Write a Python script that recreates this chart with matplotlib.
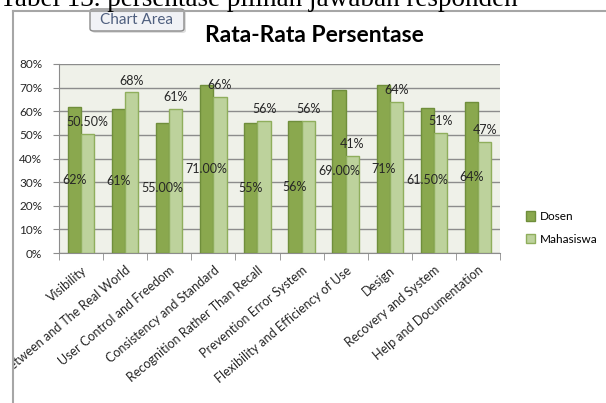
import matplotlib.pyplot as plt
from matplotlib.patches import FancyBboxPatch
from matplotlib.lines import Line2D
from matplotlib.transforms import Bbox, TransformedBbox
import numpy as np

plt.rcParams['font.family'] = ['Lato', 'DejaVu Sans']

categories = ['Visibility', 'Match Between and The Real World', 'User Control and Freedom',
              'Consistency and Standard', 'Recognition Rather Than Recall', 'Prevention Error System',
              'Flexibility and Efficiency of Use', 'Design', 'Recovery and System',
              'Help and Documentation']
dosen = [62, 61, 55, 71, 55, 56, 69, 71, 61.5, 64]
mahasiswa = [50.5, 68, 61, 66, 56, 56, 41, 64, 51, 47]
dosen_labels = ['62%', '61%', '55.00%', '71.00%', '55%', '56%', '69.00%', '71%', '61.50%', '64%']
mhs_labels = ['50.50%', '68%', '61%', '66%', '56%', '56%', '41%', '64%', '51%', '47%']
yticks = [0, 10, 20, 30, 40, 50, 60, 70, 80]

W, H = 606, 403
fig = plt.figure(figsize=(W / 100, H / 100), dpi=100)
fig.patch.set_facecolor('white')

# judul tabel di atas (terpotong)
fig.text(0 / W, 1 - 6 / H, 'Tabel 13. persentase pilihan jawaban responden',
         family='Liberation Serif', fontsize=19.5, va='baseline', ha='left', color='black')

# garis chart area
fig.add_artist(Line2D([13 / W, 1], [1 - 11 / H, 1 - 11 / H], color='#a6a6a6', lw=1.5))
fig.add_artist(Line2D([13 / W, 13 / W], [0, 1 - 11 / H], color='#a6a6a6', lw=1.5))

ax = fig.add_axes([59 / W, 150 / H, 441 / W, 189 / H])
ax.set_facecolor('#eff1e9')

x = np.arange(len(categories))
w = 0.3
ax.bar(x - w / 2, dosen, w, color='#8aa84e', edgecolor='#6f8e3b', linewidth=1, label='Dosen', zorder=3)
ax.bar(x + w / 2, mahasiswa, w, color='#bdd29c', edgecolor='#8fae5c', linewidth=1, label='Mahasiswa', zorder=3)

for i in range(len(categories)):
    ax.text(x[i] - w / 2, dosen[i] / 2, dosen_labels[i], ha='center', va='center',
            fontsize=9, color='#262626', zorder=5)
    ax.text(x[i] + w / 2, mahasiswa[i] + 5, mhs_labels[i], ha='center', va='center',
            fontsize=9, color='#262626', zorder=5)

ax.set_xlim(-0.5, len(categories) - 0.5)
ax.set_ylim(0, 80)
ax.set_yticks(yticks)
ax.set_yticklabels([f'{v}%' for v in yticks], fontsize=8.5, color='#262626')
ax.yaxis.grid(True, color='#8c8c8c', linewidth=1, zorder=0)
ax.set_axisbelow(True)

ax.set_xticks(x)
ax.set_xticklabels(categories, rotation=40, ha='right', rotation_mode='anchor',
                   fontsize=9, color='#262626')
ax.tick_params(axis='x', which='major', length=0, pad=8)
ax.set_xticks(np.arange(-0.5, len(categories)), minor=True)
ax.tick_params(axis='x', which='minor', length=5, color='#8c8c8c')
ax.tick_params(axis='y', length=4, color='#8c8c8c', pad=8)

for s in ['top', 'right']:
    ax.spines[s].set_visible(False)
for s in ['left', 'bottom']:
    ax.spines[s].set_color('#8c8c8c')

# label dipotong oleh tepi chart area
clip = TransformedBbox(Bbox([[13 / W, 0], [1, 1]]), fig.transFigure)
for lab in ax.get_xticklabels():
    lab.set_clip_box(clip)
    lab.set_clip_on(True)

fig.text(314 / W, 1 - 35 / H, 'Rata-Rata Persentase', ha='center', va='center',
         fontsize=16.5, fontweight='bold', color='black')

fig.legend(loc='center left', bbox_to_anchor=(515 / W, 1 - 228 / H), frameon=False,
           fontsize=8.5, handlelength=0.8, handleheight=0.8, labelspacing=1.0,
           handletextpad=0.4)

# tooltip "Chart Area"
shadow = FancyBboxPatch((92 / W, 1 - 33 / H), 94 / W, 22 / H, boxstyle='round,pad=0,rounding_size=0.006',
                        transform=fig.transFigure, facecolor='#c8c8c8', edgecolor='none', alpha=0.6)
fig.add_artist(shadow)
tip = FancyBboxPatch((90 / W, 1 - 31 / H), 94 / W, 22 / H, boxstyle='round,pad=0,rounding_size=0.006',
                     transform=fig.transFigure, facecolor='#f1f2f6', edgecolor='#8a8a8a', linewidth=1)
fig.add_artist(tip)
fig.text(137 / W, 1 - 20 / H, 'Chart Area', ha='center', va='center', fontsize=11, color='#4f5f7f')

fig.savefig('out.png', dpi=100)
